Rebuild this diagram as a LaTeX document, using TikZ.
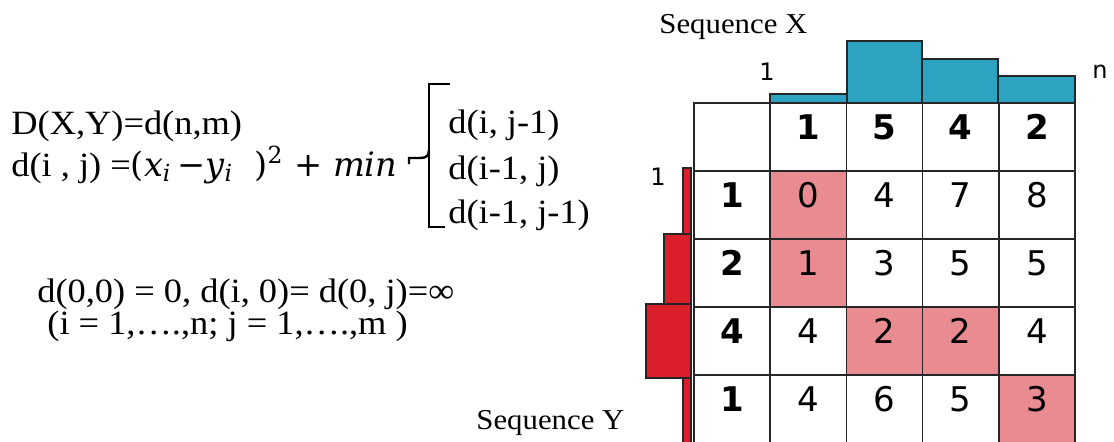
\documentclass[tikz,border=0pt]{standalone}
\usepackage{fontspec}
\setmainfont{Liberation Serif}[FakeStretch=1.07]
\newfontfamily\gridfont{DejaVu Sans}
\newfontfamily\mathfnt{DejaVu Serif}
\usetikzlibrary{positioning}
\definecolor{seqblue}{HTML}{2EA3C1}
\definecolor{seqred}{HTML}{DA1F2A}
\definecolor{pathpink}{HTML}{E98C91}
\newcommand{\mvar}[1]{\textit{#1}}
\tikzset{
  cellb/.style={draw=black!85, line width=0.75pt, minimum width=38.1pt,
    minimum height=34pt, inner sep=0pt, text height=12.4pt, text depth=10pt,
    font=\gridfont\fontsize{17}{20}\selectfont},
  pathb/.style={cellb, fill=pathpink},
  headb/.style={cellb, font=\gridfont\bfseries\fontsize{17}{20}\selectfont},
  xbar/.style={draw=black!85, line width=0.6pt, fill=seqblue},
  ybar/.style={draw=black!85, line width=0.6pt, fill=seqred},
  eqt/.style={anchor=base west, inner sep=0pt, font=\fontsize{17}{20}\selectfont},
  seqlab/.style={anchor=base west, inner sep=0pt, font=\fontsize{14.4}{17}\selectfont},
  idxlab/.style={inner sep=0pt, font=\gridfont\fontsize{12}{14}\selectfont},
  bracel/.style={line width=1.2pt, line join=miter},
}

\begin{document}
\begin{tikzpicture}[x=0.5pt, y=-0.5pt]
  \useasboundingbox (0,0) rectangle (1114,441);
  \clip (0,0) rectangle (1114,441);

  % formulas
  \node[eqt] (dxy) at (11,134) {D(X,Y)=d(n,m)};
  \node[eqt] (dij) at (11,176) {d(i , j) =\mathfnt\fontsize{16.8}{18}\selectfont
    (\mvar{x}\textsubscript{\mvar{i}}\,−\mvar{y}\textsubscript{\mvar{i}}\ \ )\textsuperscript{2}
    + \mvar{min}};
  \node[eqt] (m1) at (448,133) {d(i, j-1)};
  \node[eqt] (m2) at (448,179) {d(i-1, j)};
  \node[eqt] (m3) at (448,223) {d(i-1, j-1)};
  \draw[bracel] (450,84) -- (429,84) -- (429,227) -- (445,227);
  \draw[bracel] (429,150) .. controls (429,156) and (426,158) .. (420,158)
    -- (409,158) -- (409,164);
  \node[eqt] (init) at (37,302) {d(0,0) = 0, d(i, 0)= d(0, j)=∞};
  \node[eqt] (rng) at (47,334) {(i = 1,….,n; j = 1,….,m )};

  % sequence bars
  \draw[xbar] (770,94) rectangle (847,103);
  \draw[xbar] (847,41) rectangle (922,103);
  \draw[xbar] (922,59) rectangle (998,103);
  \draw[xbar] (998,76) rectangle (1075,103);
  \draw[ybar] (683,168) rectangle (691,234);
  \draw[ybar] (664,234) rectangle (691,304);
  \draw[ybar] (646,304) rectangle (691,378);
  \draw[ybar] (683,378) rectangle (691,460);

  \node[seqlab] (seqx) at (659,33) {Sequence X};
  \node[seqlab] (seqy) at (476,429) {Sequence Y};
  \node[idxlab] (x1) at (767,72) {1};
  \node[idxlab] (xn) at (1100,72) {n};
  \node[idxlab] (y1) at (658,177) {1};

  % cost grid
  \node[cellb] (h0) at (732.1,137) {};
  \foreach \v [count=\c] in {1,5,4,2}
    \node[headb] (h\c) at ({694+76.2*(\c+0.5)},137) {\v};
  \foreach \v/\r in {1/1,2/2,4/3,1/4}
    \node[headb] (r\r) at (732.1,{137+68*\r}) {\v};
  \foreach \r/\row in {1/{0/pathb,4/cellb,7/cellb,8/cellb},
                       2/{1/pathb,3/cellb,5/cellb,5/cellb},
                       3/{4/cellb,2/pathb,2/pathb,4/cellb},
                       4/{4/cellb,6/cellb,5/cellb,3/pathb}}
    \foreach \v/\s [count=\c] in \row
      \node[\s] (d\r\c) at ({694+76.2*(\c+0.5)},{137+68*\r}) {\v};
\end{tikzpicture}
\end{document}
